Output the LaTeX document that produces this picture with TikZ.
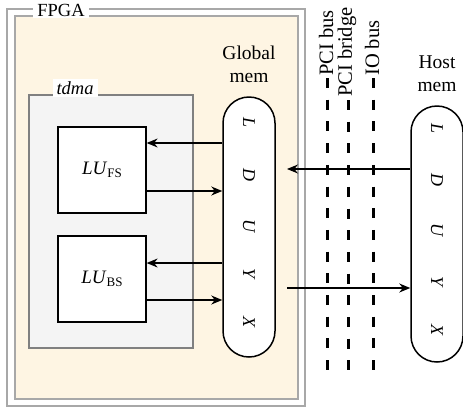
\documentclass[tikz,border=0pt]{standalone}
\usepackage{fontspec}
\setmainfont{Liberation Serif}
\usetikzlibrary{arrows.meta,calc}
\definecolor{cream}{HTML}{FEF5E3}
\definecolor{frameg}{HTML}{A8A8A8}
\definecolor{tdmaf}{HTML}{F4F4F4}
\definecolor{tdmad}{HTML}{808080}
\tikzset{
  txt/.style={font=\fontsize{19.5}{22}\selectfont, inner sep=0pt},
  lubox/.style={draw=black, line width=1.3pt, fill=white, minimum width=88pt, minimum height=86pt, inner sep=0pt, font=\fontsize{19}{22}\selectfont},
  pill/.style={draw=black, line width=1.5pt, fill=white, rounded corners=26pt, minimum width=52pt, inner sep=0pt},
  letter/.style={font=\fontsize{18}{20}\selectfont\itshape, rotate=-90, inner sep=0pt},
  arr/.style={line width=1.2pt, -{Stealth[length=11pt,width=9pt]}},
  busline/.style={line width=3pt, dash pattern=on 10pt off 11.7pt},
  buslabel/.style={font=\fontsize{20.5}{22}\selectfont, rotate=90, anchor=west, inner sep=0pt},
  tag/.style={fill=white, inner xsep=4pt, inner ysep=2pt, font=\fontsize{18.5}{22}\selectfont}
}
\newcommand{\subsc}[1]{\raisebox{-0.35ex}{\fontsize{13}{15}\selectfont #1}}
\begin{document}
\begin{tikzpicture}[x=1pt,y=-1pt]
\useasboundingbox (0,0) rectangle (463,408);
% FPGA frame
\draw[frameg, line width=1.8pt, fill=white] (7,9) rectangle (305,406);
\draw[frameg, line width=1.8pt, fill=cream] (15,16) rectangle (298,399);
\node[tag] (fpga) at (61,10) {FPGA};
% tdma
\draw[tdmad, line width=1.3pt, fill=tdmaf] (29,95) rectangle (193,348);
\node[tag, font=\fontsize{18.5}{22}\selectfont\itshape] (tdma) at (75,88) {tdma};
% LU boxes
\node[lubox] (fs) at (102,170) {\textit{LU}\subsc{FS}};
\node[lubox] (bs) at (102,279) {\textit{LU}\subsc{BS}};
% Global mem
\node[pill, minimum height=260pt] (gm) at (249,227) {};
\node[txt, align=center] (gmt) at (249,64) {Global\\[1pt]mem};
\foreach \l/\yy in {L/122, D/175, U/226, Y/273, X/322}
  \node[letter] (g\l) at (249,\yy) {\l};
% Host mem
\node[pill, minimum height=256pt] (hm) at (437,234) {};
\node[txt, align=center] (hmt) at (437,74) {Host\\[1pt]mem};
\foreach \l/\yy in {L/128, D/180, U/230, Y/281, X/330}
  \node[letter] (h\l) at (437,\yy) {\l};
% buses
\draw[busline] (327,78) -- (327,372);
\draw[busline] (348,100) -- (348,372);
\draw[busline] (373,78) -- (373,372);
\node[buslabel] (pcib) at (326,76) {PCI bus};
\node[buslabel] (pcibr) at (347,97) {PCI bridge};
\node[buslabel] (iob) at (372,76) {IO bus};
% arrows
\coordinate (a1) at ($(fs.east)+(0,-27)$);
\coordinate (a2) at ($(fs.east)+(0,21)$);
\coordinate (a3) at ($(bs.east)+(0,-16)$);
\coordinate (a4) at ($(bs.east)+(0,21)$);
\draw[arr] (a1 -| gm.west) -- (a1);
\draw[arr] (a2) -- (a2 -| gm.west);
\draw[arr] (a3 -| gm.west) -- (a3);
\draw[arr] (a4) -- (a4 -| gm.west);
\coordinate (hg) at (287,169);
\coordinate (gh) at (287,288);
\draw[arr] (hg -| hm.west) -- (hg);
\draw[arr] (gh) -- (gh -| hm.west);
\end{tikzpicture}
\end{document}
